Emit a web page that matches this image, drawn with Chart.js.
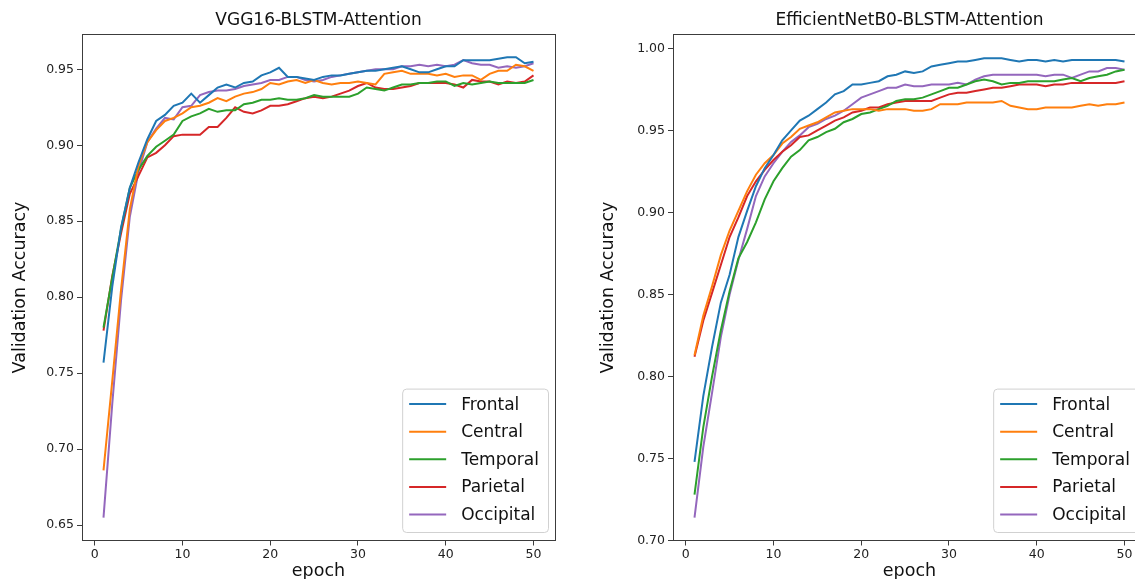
<!DOCTYPE html>
<html>
<head>
<meta charset="utf-8">
<script src="https://cdn.jsdelivr.net/npm/chart.js@4.4.1/dist/chart.umd.min.js"></script>
<style>
  html, body { margin: 0; padding: 0; background: #fff; overflow: hidden; }
  #page { position: relative; width: 1135px; height: 579px; overflow: hidden; }
  .panel { position: absolute; top: 0; height: 579px; }
  #left { left: 0; width: 637px; }
  #right { left: 588px; width: 643px; }
</style>
</head>
<body>
<div id="page">
  <div class="panel" id="left"><canvas id="vgg"></canvas></div>
  <div class="panel" id="right"><canvas id="eff"></canvas></div>
</div>
<script>
// epochs on the x axis
const EPOCHS = [1,2,3,4,5,6,7,8,9,10,11,12,13,14,15,16,17,18,19,20,21,22,23,24,25,
  26,27,28,29,30,31,32,33,34,35,36,37,38,39,40,41,42,43,44,45,46,47,48,49,50]
const X_TICKS = [0, 10, 20, 30, 40, 50]

const SERIES_NAMES = ['Frontal', 'Central', 'Temporal', 'Parietal', 'Occipital']
const SERIES_COLORS = ['#1f77b4', '#ff7f0e', '#2ca02c', '#d62728', '#9467bd']

// VGG16-BLSTM-Attention validation accuracy
const VGG_FRONTAL = [0.757,0.807,0.846,0.872,0.889,0.904,0.916,0.920,0.926,0.928,
  0.934,0.928,0.933,0.938,0.940,0.938,0.941,0.942,0.946,0.948,
  0.951,0.945,0.945,0.944,0.943,0.945,0.946,0.946,0.947,0.948,
  0.949,0.949,0.950,0.951,0.952,0.950,0.948,0.948,0.950,0.952,
  0.952,0.956,0.956,0.956,0.956,0.957,0.958,0.958,0.954,0.955]
const VGG_CENTRAL = [0.686,0.745,0.805,0.858,0.887,0.902,0.910,0.916,0.918,0.921,
  0.925,0.926,0.928,0.931,0.929,0.932,0.934,0.935,0.937,0.941,
  0.940,0.942,0.943,0.941,0.943,0.941,0.940,0.941,0.941,0.942,
  0.941,0.940,0.947,0.948,0.949,0.947,0.947,0.947,0.946,0.947,
  0.945,0.946,0.946,0.943,0.947,0.949,0.949,0.953,0.952,0.949]
const VGG_TEMPORAL = [0.780,0.813,0.845,0.872,0.884,0.893,0.899,0.903,0.907,0.916,
  0.919,0.921,0.924,0.922,0.923,0.923,0.927,0.928,0.930,0.930,
  0.931,0.930,0.930,0.931,0.933,0.932,0.932,0.932,0.932,0.934,
  0.938,0.937,0.936,0.938,0.940,0.940,0.941,0.941,0.942,0.942,
  0.939,0.941,0.940,0.941,0.942,0.941,0.941,0.941,0.941,0.943]
const VGG_PARIETAL = [0.778,0.814,0.842,0.868,0.880,0.892,0.895,0.900,0.906,0.907,
  0.907,0.907,0.912,0.912,0.918,0.925,0.922,0.921,0.923,0.926,
  0.926,0.927,0.929,0.931,0.932,0.931,0.932,0.934,0.936,0.939,
  0.941,0.938,0.937,0.937,0.938,0.939,0.941,0.941,0.941,0.941,
  0.940,0.938,0.943,0.942,0.942,0.940,0.942,0.941,0.942,0.946]
const VGG_OCCIPITAL = [0.655,0.730,0.798,0.853,0.883,0.902,0.911,0.918,0.917,0.925,
  0.926,0.933,0.935,0.936,0.936,0.937,0.939,0.940,0.941,0.943,
  0.943,0.945,0.945,0.943,0.942,0.943,0.945,0.946,0.947,0.948,
  0.949,0.950,0.950,0.950,0.952,0.952,0.953,0.952,0.953,0.952,
  0.953,0.956,0.954,0.953,0.953,0.951,0.952,0.951,0.952,0.954]
const VGG_Y_TICKS = [0.65, 0.70, 0.75, 0.80, 0.85, 0.90, 0.95]

// EfficientNetB0-BLSTM-Attention validation accuracy
const EFF_FRONTAL = [0.748,0.788,0.818,0.845,0.862,0.885,0.901,0.916,0.927,0.935,
  0.944,0.950,0.956,0.959,0.963,0.967,0.972,0.974,0.978,0.978,
  0.979,0.980,0.983,0.984,0.986,0.985,0.986,0.989,0.990,0.991,
  0.992,0.992,0.993,0.994,0.994,0.994,0.993,0.992,0.993,0.993,
  0.992,0.993,0.992,0.993,0.993,0.993,0.993,0.993,0.993,0.992]
const EFF_CENTRAL = [0.813,0.837,0.855,0.874,0.889,0.901,0.913,0.923,0.930,0.935,
  0.942,0.946,0.951,0.953,0.955,0.958,0.961,0.962,0.963,0.963,
  0.963,0.962,0.963,0.963,0.963,0.962,0.962,0.963,0.966,0.966,
  0.966,0.967,0.967,0.967,0.967,0.968,0.965,0.964,0.963,0.963,
  0.964,0.964,0.964,0.964,0.965,0.966,0.965,0.966,0.966,0.967]
const EFF_TEMPORAL = [0.728,0.769,0.800,0.828,0.852,0.872,0.882,0.894,0.908,0.919,
  0.927,0.934,0.938,0.944,0.946,0.949,0.951,0.955,0.957,0.960,
  0.961,0.963,0.965,0.968,0.969,0.969,0.970,0.972,0.974,0.976,
  0.976,0.978,0.980,0.981,0.980,0.978,0.979,0.979,0.980,0.980,
  0.980,0.980,0.981,0.982,0.980,0.982,0.983,0.984,0.986,0.987]
const EFF_PARIETAL = [0.812,0.834,0.851,0.868,0.885,0.897,0.910,0.919,0.926,0.932,
  0.937,0.941,0.946,0.947,0.950,0.953,0.956,0.958,0.961,0.962,
  0.964,0.964,0.966,0.967,0.968,0.968,0.968,0.968,0.970,0.972,
  0.973,0.973,0.974,0.975,0.976,0.976,0.977,0.978,0.978,0.978,
  0.977,0.978,0.978,0.979,0.979,0.979,0.979,0.979,0.979,0.980]
const EFF_OCCIPITAL = [0.714,0.757,0.790,0.824,0.850,0.871,0.890,0.910,0.922,0.930,
  0.937,0.943,0.947,0.952,0.954,0.957,0.959,0.962,0.966,0.970,
  0.972,0.974,0.976,0.976,0.978,0.977,0.977,0.978,0.978,0.978,
  0.979,0.978,0.981,0.983,0.984,0.984,0.984,0.984,0.984,0.984,
  0.983,0.984,0.984,0.982,0.984,0.986,0.986,0.988,0.988,0.987]
const EFF_Y_TICKS = [0.70, 0.75, 0.80, 0.85, 0.90, 0.95, 1.00]

Chart.defaults.font.family = "'DejaVu Sans', sans-serif"
Chart.defaults.color = '#222'

const SPINE = '#3c3c3c'
const TEXT = '#111'

// matplotlib-style legend box in the lower right of the plot area
const boxLegend = {
  id: 'boxLegend',
  afterDraw(chart) {
    const { ctx, chartArea: a } = chart
    const items = chart.data.datasets
    const rowH = 27.6
    ctx.save()
    ctx.font = "17px 'DejaVu Sans'"
    const textW = Math.max(...items.map(d => ctx.measureText(d.label).width))
    const w = 59 + textW + 9
    const h = rowH * (items.length - 1) + 33
    const x = a.right - 7 - w
    const y = a.bottom - 8.5 - h
    ctx.beginPath()
    ctx.roundRect(x + 0.5, y + 0.5, w, h, 4)
    ctx.fillStyle = 'rgba(255,255,255,0.8)'
    ctx.fill()
    ctx.strokeStyle = 'rgba(204,204,204,0.9)'
    ctx.lineWidth = 1
    ctx.stroke()
    ctx.textBaseline = 'middle'
    items.forEach((d, i) => {
      const cy = y + 15.5 + i * rowH
      ctx.strokeStyle = d.borderColor
      ctx.lineWidth = d.borderWidth
      ctx.beginPath()
      ctx.moveTo(x + 7, cy)
      ctx.lineTo(x + 44, cy)
      ctx.stroke()
      ctx.fillStyle = TEXT
      ctx.fillText(d.label, x + 59, cy + 1)
    })
    ctx.restore()
  },
}

function toDatasets(seriesList) {
  return seriesList.map((vals, i) => ({
    label: SERIES_NAMES[i],
    data: EPOCHS.map((e, j) => ({ x: e, y: vals[j] })),
    borderColor: SERIES_COLORS[i],
    backgroundColor: SERIES_COLORS[i],
    borderWidth: 2,
    pointRadius: 0,
    tension: 0,
    xAxisID: 'x',
    yAxisID: 'y',
  }))
}

function drawPanel(canvasId, title, seriesList, yMin, yMax, yTicks, axisW) {
  const ticks = { drawOnChartArea: false, tickLength: 5, color: SPINE }
  return new Chart(document.getElementById(canvasId), {
    type: 'line',
    data: { datasets: toDatasets(seriesList) },
    options: {
      responsive: true,
      maintainAspectRatio: false,
      animation: false,
      layout: { padding: 0 },
      plugins: {
        legend: { display: false },
        tooltip: { enabled: false },
        title: {
          display: true,
          text: title,
          color: TEXT,
          font: { size: 17, weight: 'normal' },
          padding: { top: 10.8, bottom: 3.3 },
        },
      },
      scales: {
        x: {
          type: 'linear',
          position: 'bottom',
          min: -1.45,
          max: 52.45,
          afterBuildTicks: s => { s.ticks = X_TICKS.map(v => ({ value: v })) },
          afterFit: s => { s.height = 38.5 },
          grid: ticks,
          border: { color: SPINE, width: 1 },
          ticks: { padding: 2, font: { size: 12.5 }, maxRotation: 0, callback: v => String(v) },
          title: {
            display: true, text: 'epoch', color: TEXT,
            font: { size: 17.5 }, padding: { top: 0, bottom: -3 },
          },
        },
        y: {
          type: 'linear',
          position: 'left',
          min: yMin,
          max: yMax,
          afterBuildTicks: s => { s.ticks = yTicks.map(v => ({ value: v })) },
          afterFit: s => { s.width = axisW },
          grid: ticks,
          border: { color: SPINE, width: 1 },
          ticks: { padding: 3, font: { size: 12.5 }, callback: v => v.toFixed(2) },
          title: {
            display: true, text: 'Validation Accuracy', color: TEXT,
            font: { size: 17.5 }, padding: { top: 10, bottom: 0 },
          },
        },
        // top and right spines (right one also keeps the title centred on the plot)
        x2: {
          type: 'linear',
          position: 'top',
          afterFit: s => { s.height = 0 },
          grid: { display: false },
          ticks: { display: false },
          border: { color: SPINE, width: 1 },
        },
        y2: {
          type: 'linear',
          position: 'right',
          afterFit: s => { s.width = axisW },
          grid: { display: false },
          ticks: { display: false },
          border: { color: SPINE, width: 1 },
        },
      },
    },
    plugins: [boxLegend],
  })
}

drawPanel('vgg', 'VGG16-BLSTM-Attention',
  [VGG_FRONTAL, VGG_CENTRAL, VGG_TEMPORAL, VGG_PARIETAL, VGG_OCCIPITAL],
  0.6399, 0.9729, VGG_Y_TICKS, 82)

drawPanel('eff', 'EfficientNetB0-BLSTM-Attention',
  [EFF_FRONTAL, EFF_CENTRAL, EFF_TEMPORAL, EFF_PARIETAL, EFF_OCCIPITAL],
  0.70, 1.0085, EFF_Y_TICKS, 85)
</script>
</body>
</html>
